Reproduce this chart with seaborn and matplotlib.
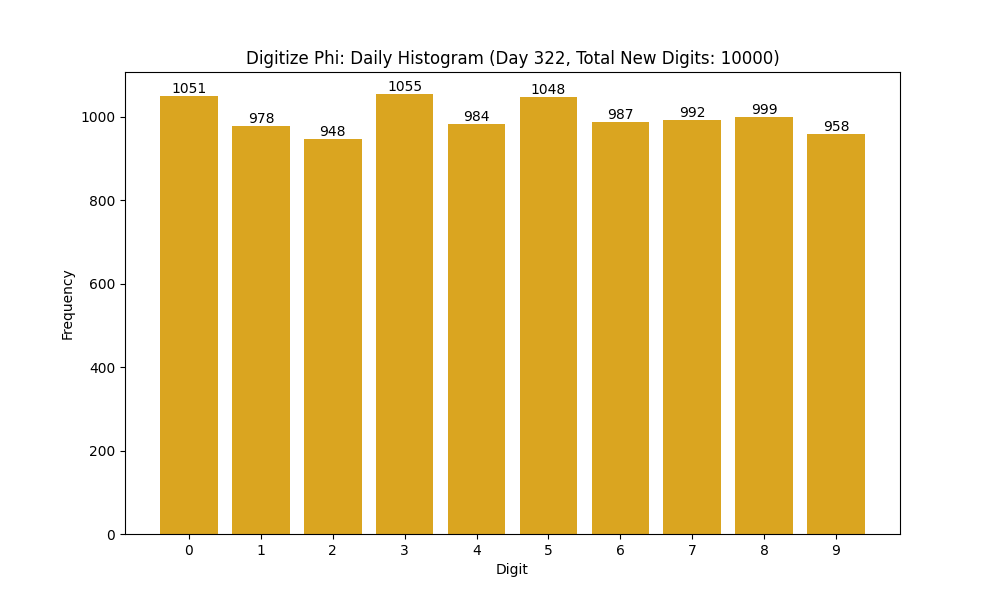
import matplotlib
matplotlib.use("Agg")
import matplotlib.pyplot as plt
import seaborn as sns
import pandas as pd

# =====================================
# DATA
# =====================================

digits = ["0", "1", "2", "3", "4", "5", "6", "7", "8", "9"]
counts = [1051, 978, 948, 1055, 984, 1048, 987, 992, 999, 958]

day = 322
total_new = sum(counts)

df = pd.DataFrame({"Digit": digits, "Frequency": counts})

# =====================================
# PLOT
# =====================================

fig, ax = plt.subplots(figsize=(10, 6), dpi=100)

sns.barplot(
    data=df,
    x="Digit",
    y="Frequency",
    color="goldenrod",
    saturation=1,
    width=0.8,
    ax=ax
)

for container in ax.containers:
    ax.bar_label(container, fmt="%d", fontsize=10)

ax.set_xlim(-0.89, 9.89)
ax.set_ylim(0, 1055 * 1.05)

ax.set_xlabel("Digit")
ax.set_ylabel("Frequency")
ax.set_title(f"Digitize Phi: Daily Histogram (Day {day}, Total New Digits: {total_new})")

plt.savefig("out.png", dpi=100)
